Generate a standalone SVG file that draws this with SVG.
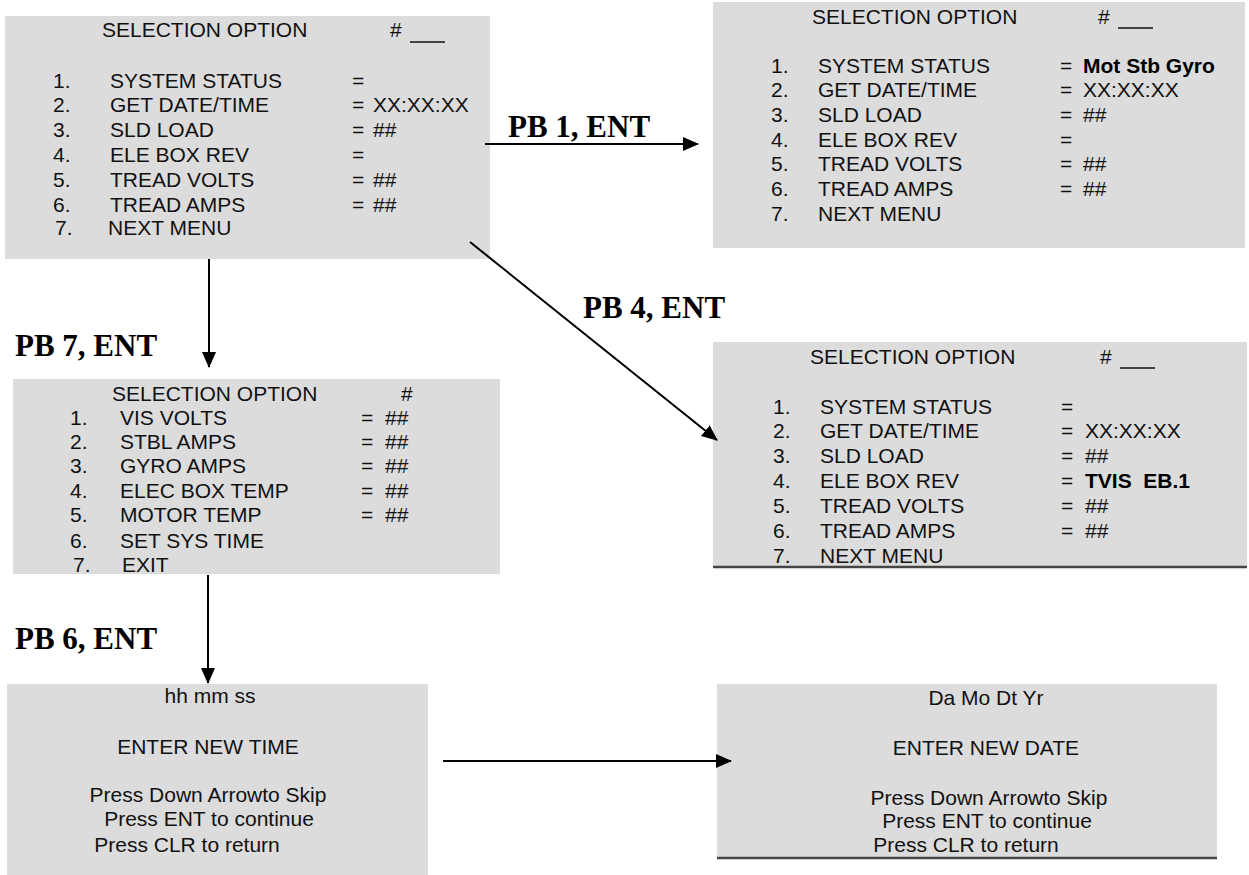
<svg xmlns="http://www.w3.org/2000/svg" width="1249" height="875" viewBox="0 0 1249 875">
<defs>
<style>
.box{fill:#dcdcdc}
.t{font-family:"Liberation Sans",Arial,sans-serif;font-size:21px;fill:#111}
.b{font-weight:bold;fill:#000}
.c{text-anchor:middle}
.lbl{font-family:"Liberation Serif","Times New Roman",serif;font-size:31px;font-weight:bold;fill:#000}
.conn{stroke:#000;stroke-width:2;fill:none;marker-end:url(#ah)}
.ul{stroke:#111;stroke-width:1.5}
.bl{stroke:#444;stroke-width:2.5}
</style>
<marker id="ah" markerUnits="userSpaceOnUse" markerWidth="16" markerHeight="14" refX="15" refY="7" orient="auto">
<path d="M0,0 L16,7 L0,14 Z" fill="#000"/>
</marker>
</defs>
<rect width="1249" height="875" fill="#fff"/>

<g id="menu1">
<rect class="box" x="5" y="16" width="485" height="243"/>
<text class="t" x="102" y="37">SELECTION OPTION</text>
<text class="t" x="390" y="37">#</text>
<line class="ul" x1="410" y1="42" x2="445" y2="42"/>
<text class="t" x="53" y="88">1.</text><text class="t" x="110" y="88">SYSTEM STATUS</text><text class="t" x="352" y="88">=</text>
<text class="t" x="53" y="112">2.</text><text class="t" x="110" y="112">GET DATE/TIME</text><text class="t" x="352" y="112">=</text><text class="t" x="373" y="112">XX:XX:XX</text>
<text class="t" x="53" y="137">3.</text><text class="t" x="110" y="137">SLD LOAD</text><text class="t" x="352" y="137">=</text><text class="t" x="373" y="137">##</text>
<text class="t" x="53" y="162">4.</text><text class="t" x="110" y="162">ELE BOX REV</text><text class="t" x="352" y="162">=</text>
<text class="t" x="53" y="187">5.</text><text class="t" x="110" y="187">TREAD VOLTS</text><text class="t" x="352" y="187">=</text><text class="t" x="373" y="187">##</text>
<text class="t" x="53" y="212">6.</text><text class="t" x="110" y="212">TREAD AMPS</text><text class="t" x="352" y="212">=</text><text class="t" x="373" y="212">##</text>
<text class="t" x="55" y="235">7.</text><text class="t" x="108" y="235">NEXT MENU</text>
</g>

<g id="menu1-status">
<rect class="box" x="713" y="2" width="532" height="246"/>
<text class="t" x="812" y="24">SELECTION OPTION</text>
<text class="t" x="1098" y="24">#</text>
<line class="ul" x1="1118" y1="28" x2="1153" y2="28"/>
<text class="t" x="771" y="73">1.</text><text class="t" x="818" y="73">SYSTEM STATUS</text><text class="t" x="1060" y="73">=</text><text class="t b" x="1083" y="73">Mot Stb Gyro</text>
<text class="t" x="771" y="97">2.</text><text class="t" x="818" y="97">GET DATE/TIME</text><text class="t" x="1060" y="97">=</text><text class="t" x="1083" y="97">XX:XX:XX</text>
<text class="t" x="771" y="122">3.</text><text class="t" x="818" y="122">SLD LOAD</text><text class="t" x="1060" y="122">=</text><text class="t" x="1083" y="122">##</text>
<text class="t" x="771" y="147">4.</text><text class="t" x="818" y="147">ELE BOX REV</text><text class="t" x="1060" y="147">=</text>
<text class="t" x="771" y="171">5.</text><text class="t" x="818" y="171">TREAD VOLTS</text><text class="t" x="1060" y="171">=</text><text class="t" x="1083" y="171">##</text>
<text class="t" x="771" y="196">6.</text><text class="t" x="818" y="196">TREAD AMPS</text><text class="t" x="1060" y="196">=</text><text class="t" x="1083" y="196">##</text>
<text class="t" x="771" y="221">7.</text><text class="t" x="818" y="221">NEXT MENU</text>
</g>

<g id="menu2">
<rect class="box" x="13" y="379" width="487" height="195"/>
<text class="t" x="112" y="401">SELECTION OPTION</text>
<text class="t" x="401" y="401">#</text>
<text class="t" x="70" y="425">1.</text><text class="t" x="120" y="425">VIS VOLTS</text><text class="t" x="361" y="425">=</text><text class="t" x="385" y="425">##</text>
<text class="t" x="70" y="449">2.</text><text class="t" x="120" y="449">STBL AMPS</text><text class="t" x="361" y="449">=</text><text class="t" x="385" y="449">##</text>
<text class="t" x="70" y="473">3.</text><text class="t" x="120" y="473">GYRO AMPS</text><text class="t" x="361" y="473">=</text><text class="t" x="385" y="473">##</text>
<text class="t" x="70" y="498">4.</text><text class="t" x="120" y="498">ELEC BOX TEMP</text><text class="t" x="361" y="498">=</text><text class="t" x="385" y="498">##</text>
<text class="t" x="70" y="522">5.</text><text class="t" x="120" y="522">MOTOR TEMP</text><text class="t" x="361" y="522">=</text><text class="t" x="385" y="522">##</text>
<text class="t" x="70" y="548">6.</text><text class="t" x="120" y="548">SET SYS TIME</text>
<text class="t" x="73" y="572">7.</text><text class="t" x="122" y="572">EXIT</text>
</g>

<g id="menu1-rev">
<rect class="box" x="713" y="342" width="534" height="225"/>
<line class="bl" x1="713" y1="567" x2="1247" y2="567"/>
<text class="t" x="810" y="364">SELECTION OPTION</text>
<text class="t" x="1100" y="364">#</text>
<line class="ul" x1="1120" y1="368" x2="1155" y2="368"/>
<text class="t" x="773" y="414">1.</text><text class="t" x="820" y="414">SYSTEM STATUS</text><text class="t" x="1061" y="414">=</text>
<text class="t" x="773" y="438">2.</text><text class="t" x="820" y="438">GET DATE/TIME</text><text class="t" x="1061" y="438">=</text><text class="t" x="1085" y="438">XX:XX:XX</text>
<text class="t" x="773" y="463">3.</text><text class="t" x="820" y="463">SLD LOAD</text><text class="t" x="1061" y="463">=</text><text class="t" x="1085" y="463">##</text>
<text class="t" x="773" y="488">4.</text><text class="t" x="820" y="488">ELE BOX REV</text><text class="t" x="1061" y="488">=</text><text class="t b" x="1085" y="488" xml:space="preserve">TVIS  EB.1</text>
<text class="t" x="773" y="513">5.</text><text class="t" x="820" y="513">TREAD VOLTS</text><text class="t" x="1061" y="513">=</text><text class="t" x="1085" y="513">##</text>
<text class="t" x="773" y="538">6.</text><text class="t" x="820" y="538">TREAD AMPS</text><text class="t" x="1061" y="538">=</text><text class="t" x="1085" y="538">##</text>
<text class="t" x="773" y="563">7.</text><text class="t" x="820" y="563">NEXT MENU</text>
</g>

<g id="set-time">
<rect class="box" x="7" y="684" width="421" height="191"/>
<text class="t c" x="210" y="703">hh mm ss</text>
<text class="t c" x="208" y="754">ENTER NEW TIME</text>
<text class="t c" x="208" y="802">Press Down Arrowto Skip</text>
<text class="t c" x="209" y="826">Press ENT to continue</text>
<text class="t c" x="187" y="852">Press CLR to return</text>
</g>

<g id="set-date">
<rect class="box" x="717" y="684" width="500" height="174"/>
<line class="bl" x1="717" y1="858" x2="1217" y2="858"/>
<text class="t c" x="986" y="705">Da Mo Dt Yr</text>
<text class="t c" x="986" y="755">ENTER NEW DATE</text>
<text class="t c" x="989" y="805">Press Down Arrowto Skip</text>
<text class="t c" x="987" y="828">Press ENT to continue</text>
<text class="t c" x="966" y="852">Press CLR to return</text>
</g>

<g id="connectors">
<line class="conn" x1="485" y1="144" x2="698" y2="144"/>
<line class="conn" x1="470" y1="242" x2="717" y2="440"/>
<line class="conn" x1="209" y1="259" x2="209" y2="367"/>
<line class="conn" x1="208" y1="575" x2="208" y2="683"/>
<line class="conn" x1="443" y1="761" x2="731" y2="761"/>
<text class="lbl" x="508" y="137">PB 1, ENT</text>
<text class="lbl" x="583" y="318">PB 4, ENT</text>
<text class="lbl" x="15" y="356">PB 7, ENT</text>
<text class="lbl" x="15" y="649">PB 6, ENT</text>
</g>
</svg>
